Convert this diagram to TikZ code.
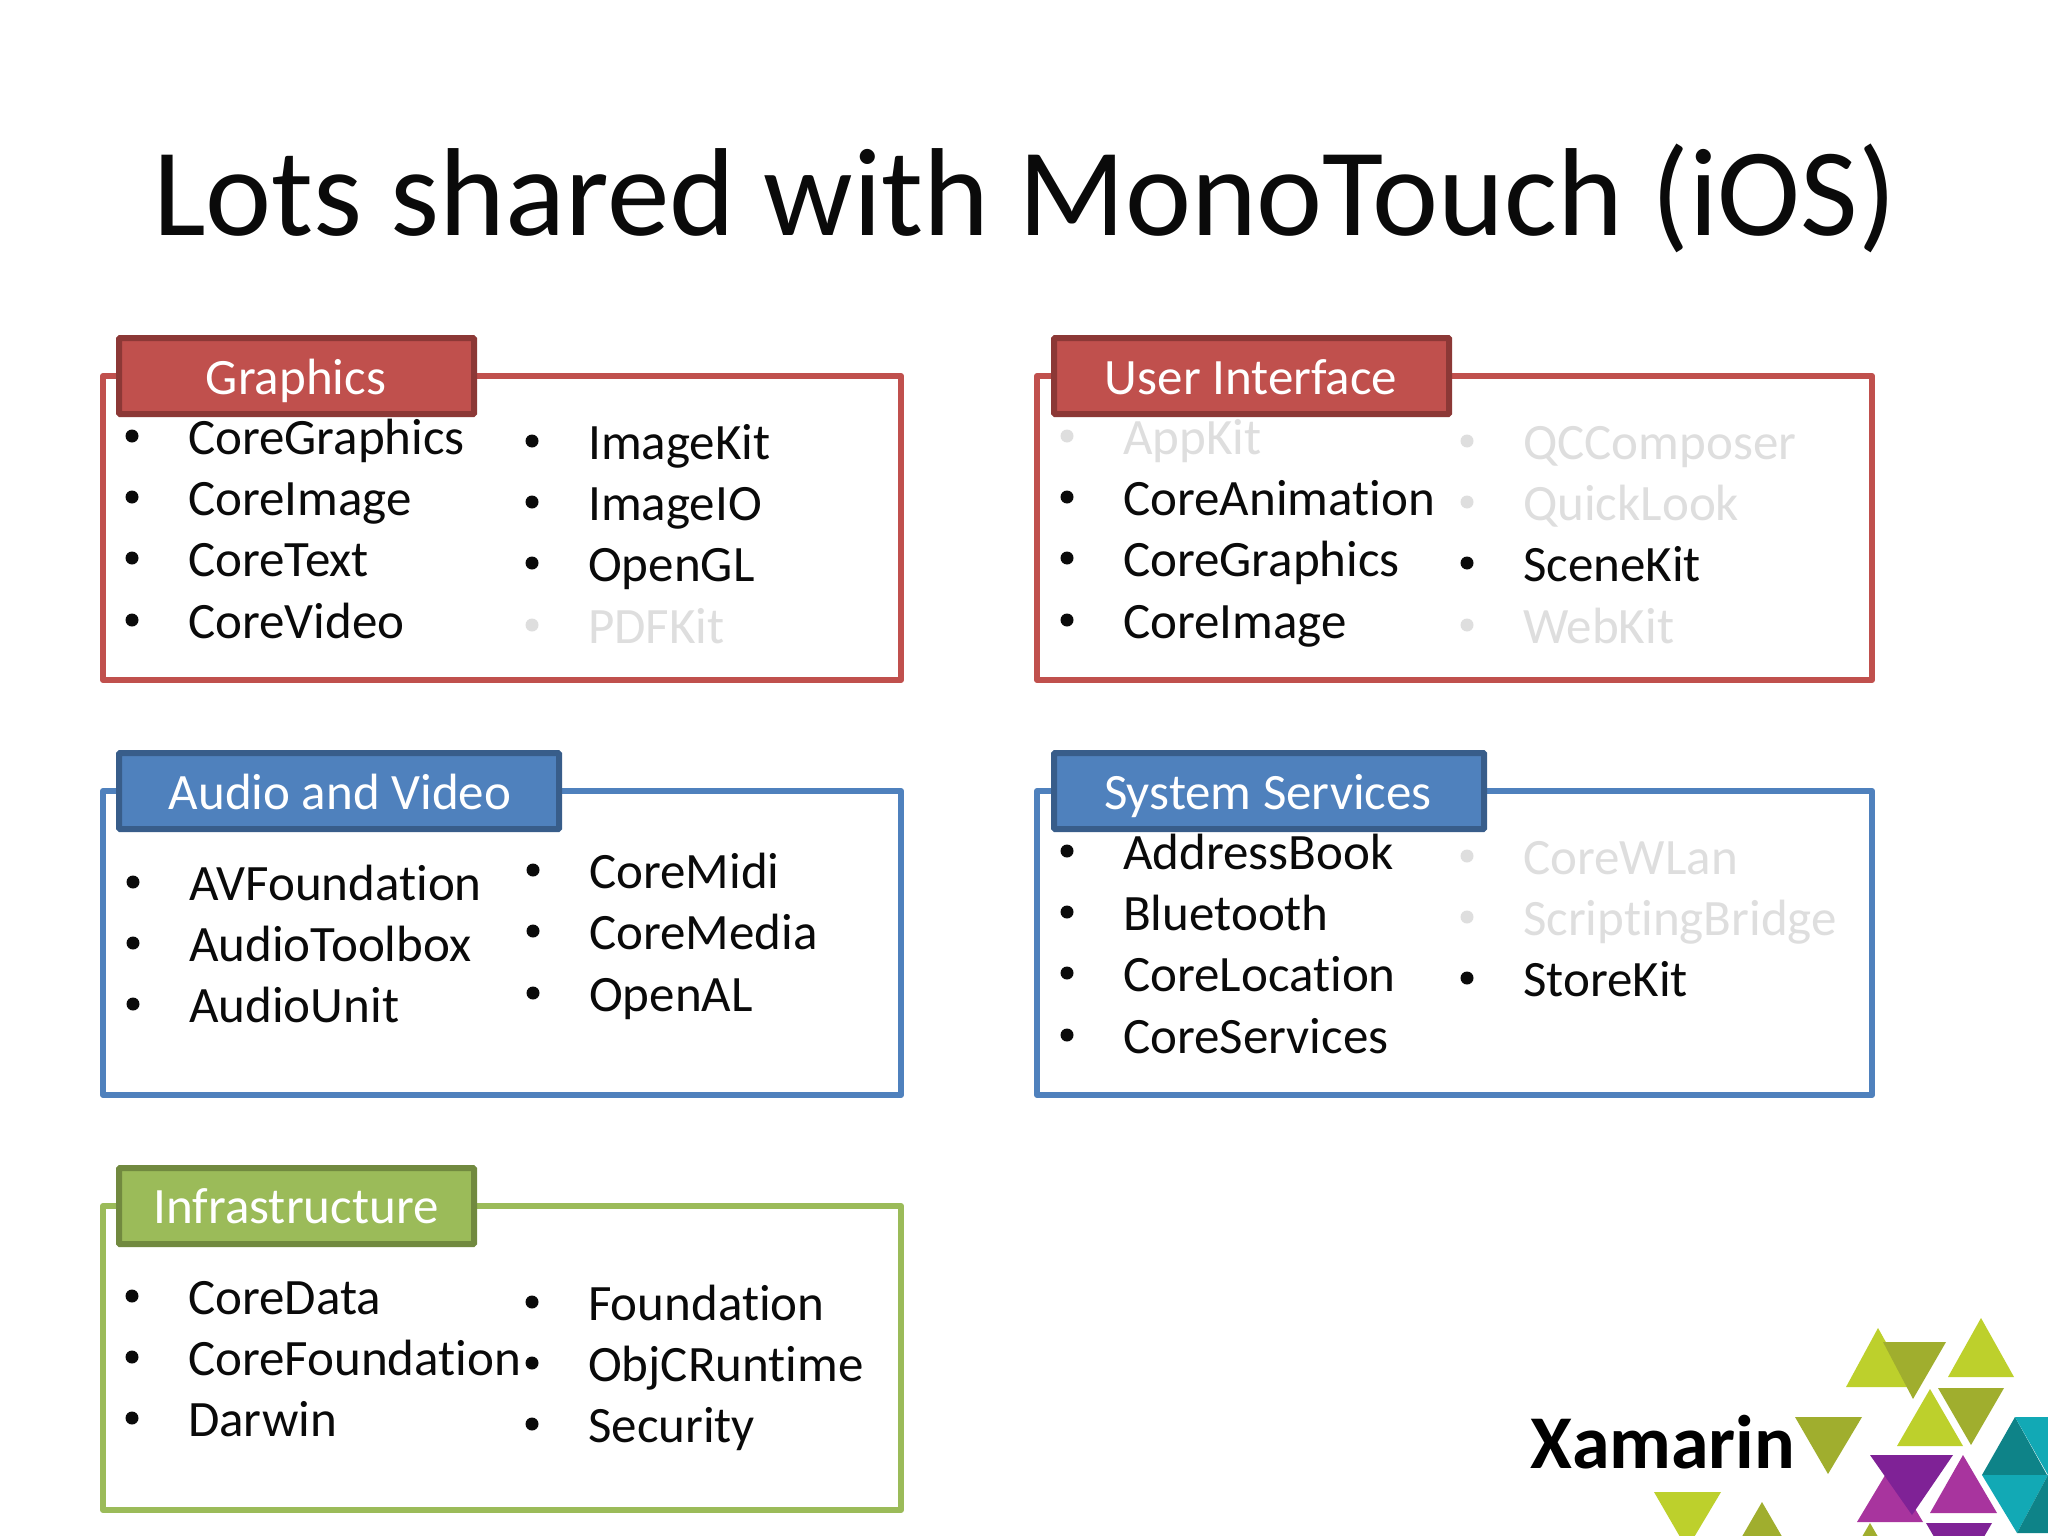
\documentclass[tikz,border=0pt]{standalone}
\usepackage{fontspec}
\setmainfont[Ligatures=NoCommon]{Carlito}
\definecolor{redF}{HTML}{C0504D}\definecolor{redD}{HTML}{8C3836}
\definecolor{bluF}{HTML}{4F81BD}\definecolor{bluD}{HTML}{385D8A}
\definecolor{grnF}{HTML}{9BBB59}\definecolor{grnD}{HTML}{71893F}
\definecolor{dim}{HTML}{DEDEDE}\definecolor{ink}{HTML}{0A0A0A}
\definecolor{lime}{HTML}{BDD02C}\definecolor{oliv}{HTML}{A0AE2E}
\definecolor{purp}{HTML}{7F2296}\definecolor{magn}{HTML}{A8349E}
\definecolor{tealA}{HTML}{12A9B5}\definecolor{tealB}{HTML}{0E8388}
\tikzset{x=1pt,y=-1pt,
 frame/.style={draw=#1,line width=6pt,fill=white,line join=round},
 tab/.style 2 args={draw=#2,fill=#1,line width=6pt,rounded corners=1pt},
 tabtext/.style={text=white,font=\fontsize{51}{51}\selectfont,anchor=base},
 itemtext/.style={text=ink,font=\fontsize{51}{51}\selectfont,anchor=base west,inner sep=0pt},
 dimtext/.style={text=dim,font=\fontsize{51}{51}\selectfont,anchor=base west,inner sep=0pt},
 bull/.style={circle,fill=ink,inner sep=0pt,minimum size=13pt},
 dimbull/.style={circle,fill=dim,inner sep=0pt,minimum size=13pt}}
\newcommand{\itm}[3]{\node[bull] at (#1,#2-17) {};\node[itemtext] at (#1+56,#2+1.3) {#3};}
\newcommand{\dimitm}[3]{\node[dimbull] at (#1,#2-17) {};\node[dimtext] at (#1+56,#2+1.3) {#3};}
\newcommand{\tri}[4]{\fill[#1] (#2) -- (#3) -- (#4) -- cycle;}
\begin{document}
\begin{tikzpicture}
\useasboundingbox (0,0) rectangle (2048,1536);
\fill[white] (0,0) rectangle (2048,1536);
\node[font=\fontsize{125.2}{125.2}\selectfont,text=ink,anchor=base,inner sep=0pt] (title) at (1025,235) {Lots shared with MonoTouch (iOS)};
% frames
\draw[frame=redF] (103,376) rectangle (901,680);
\draw[frame=redF] (1037,376) rectangle (1872,680);
\draw[frame=bluF] (103,791) rectangle (901,1095);
\draw[frame=bluF] (1037,791) rectangle (1872,1095);
\draw[frame=grnF] (103,1206) rectangle (901,1510);
% tabs
\draw[tab={redF}{redD}] (119,338) rectangle (474,414);
\draw[tab={redF}{redD}] (1054,338) rectangle (1449,414);
\draw[tab={bluF}{bluD}] (119,753) rectangle (559,829);
\draw[tab={bluF}{bluD}] (1054,753) rectangle (1484,829);
\draw[tab={grnF}{grnD}] (119,1168) rectangle (474,1244);
\node[tabtext] (t1) at (296,394.3) {Graphics};
\node[tabtext] (t2) at (1251,394.3) {User Interface};
\node[tabtext] (t3) at (340,809.3) {Audio and Video};
\node[tabtext] (t4) at (1268,809.3) {System Services};
\node[tabtext] (t5) at (296,1223.3) {Infrastructure};
% Graphics
\itm{132}{453}{CoreGraphics}\itm{132}{514}{CoreImage}\itm{132}{575}{CoreText}\itm{132}{637}{CoreVideo}
\itm{532}{458}{ImageKit}\itm{532}{519}{ImageIO}\itm{532}{580}{OpenGL}\dimitm{532}{642}{PDFKit}
% UI
\dimitm{1067}{453}{AppKit}\itm{1067}{514}{CoreAnimation}\itm{1067}{575}{CoreGraphics}\itm{1067}{637}{CoreImage}
\dimitm{1467}{458}{QCComposer}\dimitm{1467}{519}{QuickLook}\itm{1467}{580}{SceneKit}\dimitm{1467}{642}{WebKit}
% AV
\itm{133}{899}{AVFoundation}\itm{133}{960}{AudioToolbox}\itm{133}{1021}{AudioUnit}
\itm{533}{887}{CoreMidi}\itm{533}{948}{CoreMedia}\itm{533}{1010}{OpenAL}
% Sys
\itm{1067}{868}{AddressBook}\itm{1067}{929}{Bluetooth}\itm{1067}{990}{CoreLocation}\itm{1067}{1052}{CoreServices}
\dimitm{1467}{873}{CoreWLan}\dimitm{1467}{934}{ScriptingBridge}\itm{1467}{995}{StoreKit}
% Infra
\itm{132}{1313}{CoreData}\itm{132}{1374}{CoreFoundation}\itm{132}{1435}{Darwin}
\itm{532}{1319}{Foundation}\itm{532}{1380}{ObjCRuntime}\itm{532}{1441}{Security}
% logo
\node[font=\bfseries\fontsize{76}{76}\selectfont,text=black,anchor=base west,inner sep=0pt] (logo) at (1530,1468) {Xamarin};
\begin{scope}
\clip (0,0) rectangle (2048,1536);
\tri{lime}{1878,1328}{1846,1387}{1911,1387}
\tri{oliv}{1883,1342}{1946,1342}{1913,1399}
\tri{lime}{1981,1318}{1948,1377}{2014,1377}
\tri{oliv}{1938,1388}{2004,1388}{1971,1445}
\tri{lime}{1930,1389}{1897,1446}{1963,1446}
\tri{oliv}{1795,1417}{1862,1417}{1828,1474}
\tri{magn}{1890,1467}{1857,1522}{1923,1522}
\tri{purp}{1870,1455}{1953,1455}{1912,1515}
\tri{magn}{1963,1455}{1930,1513}{1997,1513}
\tri{purp}{1926,1523}{1992,1523}{1959,1580}
\tri{tealB}{2015,1417}{1982,1475}{2047,1475}
\tri{tealA}{2015,1417}{2048,1417}{2048,1475}
\tri{tealA}{1982,1475}{2048,1475}{2017,1533}
\tri{tealB}{2048,1475}{2017,1533}{2048,1533}
\tri{lime}{1654,1492}{1721,1492}{1687,1549}
\tri{oliv}{1762,1502}{1729,1559}{1795,1559}
\tri{oliv}{1870,1523}{1837,1580}{1903,1580}
\end{scope}
\end{tikzpicture}
\end{document}
